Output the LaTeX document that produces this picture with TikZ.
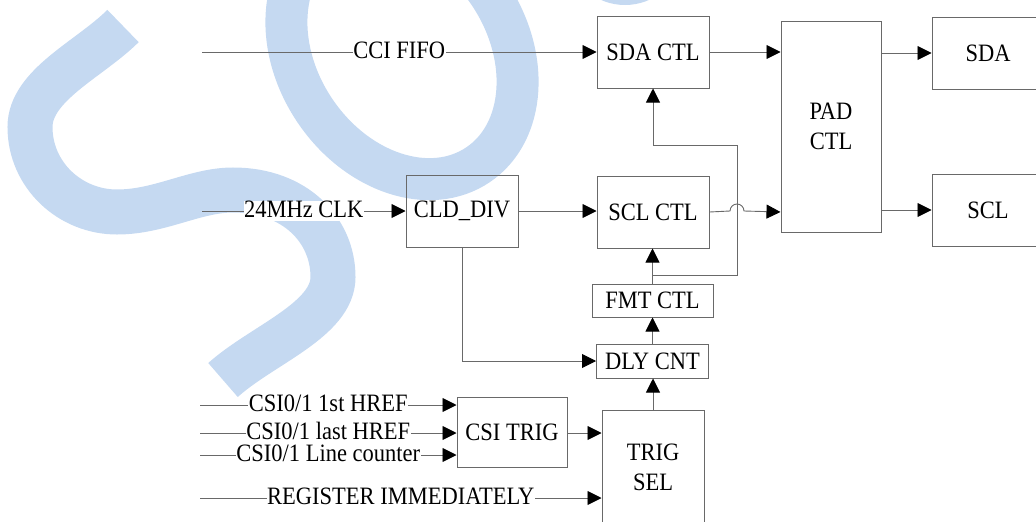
\documentclass[tikz,border=0pt]{standalone}
\usepackage{fontspec}
\setmainfont[FakeStretch=0.9]{Liberation Serif}
\usetikzlibrary{arrows.meta,positioning,calc}
\definecolor{wmblue}{RGB}{197,217,241}
\definecolor{linegray}{RGB}{105,105,105}
\tikzset{
>={Triangle[length=14pt,width=14pt,color=black]},
  line/.style={draw=linegray, line width=0.9pt, ->},
}

\begin{document}
\begin{tikzpicture}[x=1pt, y=-1pt, font=\fontsize{25}{30}\selectfont]
  \tikzset{
      action/.style={rectangle,draw=linegray,line width=1pt,minimum width=112pt,minimum height=72pt,inner sep=0pt,text centered},
      sig/.style={midway,fill=white,inner xsep=0.5pt,inner ysep=0pt,text height=16.5pt,text depth=3pt},
  }
  \useasboundingbox (0,0) rectangle (1036,522);
  % watermark in the background
  \begin{scope}
    \clip (0,0) rectangle (1036,522);
    \draw[wmblue,line width=45pt] (123,26) .. controls (90,59) and (30,85) .. (30,127)
      .. controls (30,175) and (70,212) .. (117,212)
      .. controls (160,212) and (195,190) .. (233,190)
      .. controls (295,190) and (333,230) .. (333,277)
      .. controls (333,320) and (262,345) .. (223,380);
    \draw[wmblue,line width=42pt,rotate around={-56:(402,52)}] (402,52) ellipse [x radius=136pt,y radius=105pt];
    \fill[wmblue] (625,-40) ellipse [x radius=52pt,y radius=45pt];
  \end{scope}

  \node[action] (sdactl) at (653,52) {SDA CTL};
  \node[action,minimum width=100pt,minimum height=211pt,align=center] (padctl) at (831,126.5) {PAD\\CTL};
  \node[action] (sda) at (988,53) {SDA};
  \node[action] (scl) at (988,210) {SCL};
  \node[action] (clddiv) at (462,211) {CLD\_DIV};
  \node[action] (sclctl) at (653,212) {SCL CTL};
  \node[action,minimum width=121pt,minimum height=33pt] (fmtctl) at (652.5,300.5) {FMT CTL};
  \node[action,minimum height=34pt] (dlycnt) at (652.5,361) {DLY CNT};
  \node[action,minimum width=110pt,minimum height=70pt] (csitrig) at (512,432) {CSI TRIG};
  \node[action,minimum width=102pt,minimum height=114pt,align=center] (trigsel) at (653,467) {TRIG\\SEL};

  \coordinate (cciin) at (202,52);
  \coordinate (clkin) at (202,211);
  \coordinate (href1) at (200,405);
  \coordinate (href2) at (200,433);
  \coordinate (lcnt) at (200,455);
  \coordinate (regin) at (200,498);
  \coordinate (tap) at (653,275);
  \coordinate (loop) at (737,145);
  \coordinate (jump) at (737,211);

  \path[line] (cciin) -- node[sig] {CCI FIFO} (sdactl.west);
  \path[line] (sdactl.east) -- (padctl.west |- sdactl.east);
  \path[line] (padctl.east |- sda.west) -- (sda.west);
  \path[line] (clkin) -- node[sig] {24MHz CLK} (clddiv.west);
  \path[line] (clddiv.east) -- (clddiv.east -| sclctl.west);
  \path[line] (sclctl.east) -- ($(jump)+(-7,0)$) arc[start angle=180,end angle=0,radius=7pt] -- (padctl.west |- sclctl.east);
  \path[line] (padctl.east |- scl.west) -- (scl.west);
  \path[line] (fmtctl.north) -- (fmtctl.north |- sclctl.south);
  \path[line] (tap) -| (loop) -| (sdactl.south);
  \path[line] (dlycnt.north) -- (fmtctl.south);
  \path[line] (trigsel.north) -- (trigsel.north |- dlycnt.south);
  \path[line] (clddiv.south) |- (dlycnt.west);
  \path[line] (href1) -- node[sig] {CSI0/1 1st HREF} (csitrig.west |- href1);
  \path[line] (href2) -- node[sig] {CSI0/1 last HREF} (csitrig.west |- href2);
  \path[line] (lcnt) -- node[sig] {CSI0/1 Line counter} (csitrig.west |- lcnt);
  \path[line] (csitrig.east |- href2) -- (trigsel.west |- href2);
  \path[line] (regin) -- node[sig] {REGISTER IMMEDIATELY} (trigsel.west |- regin);

\end{tikzpicture}
\end{document}
